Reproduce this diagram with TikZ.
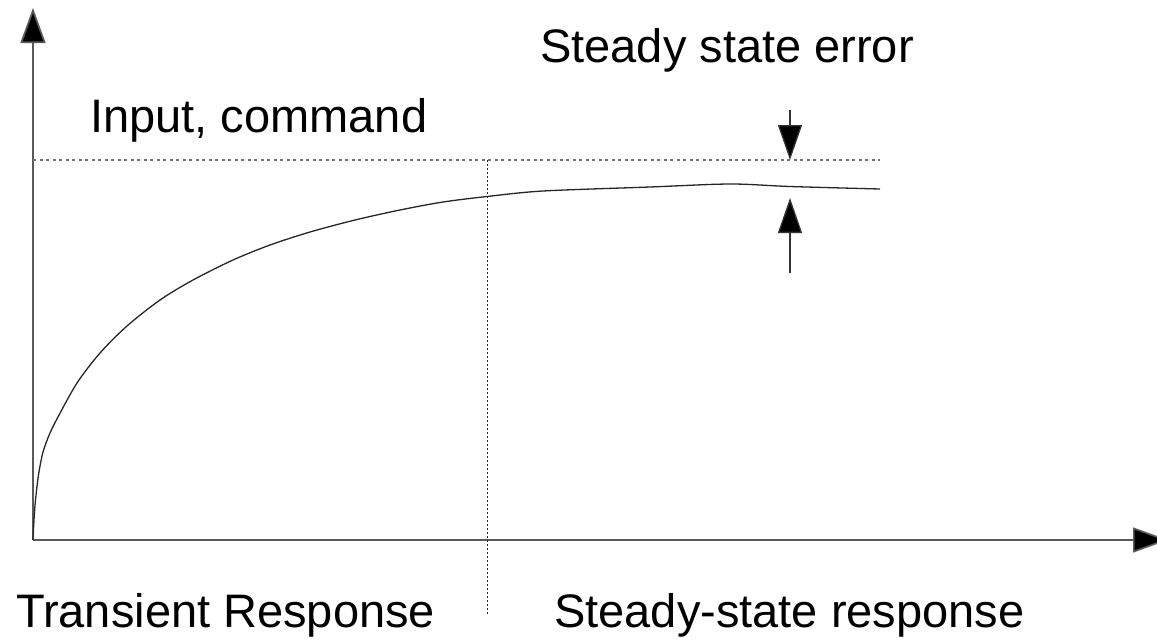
\documentclass[tikz,border=0pt]{standalone}
\usepackage{fontspec}
\setmainfont{Liberation Sans}
\usetikzlibrary{arrows.meta}
\begin{document}
\begin{tikzpicture}[x=1pt,y=-1pt,
  axis/.style={draw=black!65,line width=1.7pt,-{Triangle[length=35pt,width=25pt,fill=black]}},
  errarrow/.style={draw=black!80,line width=1.3pt,-{Triangle[length=35pt,width=24pt,fill=black]}},
  guide/.style={draw=black!55,line width=1.7pt,dash pattern=on 3pt off 3.5pt},
  divider/.style={draw=black!85,line width=1pt,dash pattern=on 2pt off 2pt},
  resp/.style={draw=black!85,line width=1.3pt,line join=round},
  lbl/.style={anchor=base west,inner sep=0pt,font=\fontsize{47}{56}\selectfont}]
\useasboundingbox (0,0) rectangle (1157,643);
% key points
\coordinate (O) at (33,540);
\coordinate (ytip) at (33,8);
\coordinate (xtip) at (1168,540);
\coordinate (inL) at (33,160);
\coordinate (inR) at (880,160);
\coordinate (divT) at (487,160);
\coordinate (divB) at (487,615);
\coordinate (dnS) at (790,110);
\coordinate (dnE) at (790,160);
\coordinate (upS) at (790,273);
\coordinate (upE) at (790,198);
% axes
\draw[axis] (O) -- (ytip);
\draw[axis] (O) -- (xtip);
% input level and divider
\draw[guide] (inL) -- (inR);
\draw[divider] (divT) -- (divB);
% response curve
\draw[resp] plot[smooth,tension=0.5] coordinates {(33,540) (34,520) (35.5,500) (38.5,475) (43,452) (50,433) (58,417) (77,383) (100,353) (127,326) (160,300) (193,280) (233,260) (270,245) (310,232) (355,220) (400,210) (443,202) (487,196.5) (543,191) (650,187) (730,184) (790,186.5) (880,189)};
% steady state error arrows
\draw[errarrow] (dnS) -- (dnE);
\draw[errarrow] (upS) -- (upE);
% labels
\node[lbl] (sse) at (540,62) {Steady state error};
\node[lbl] (inp) at (90,132) {Input, command};
\node[lbl] (tr) at (16,627) {Transient Response};
\node[lbl] (ss) at (554,627) {Steady-state response};
\end{tikzpicture}
\end{document}
